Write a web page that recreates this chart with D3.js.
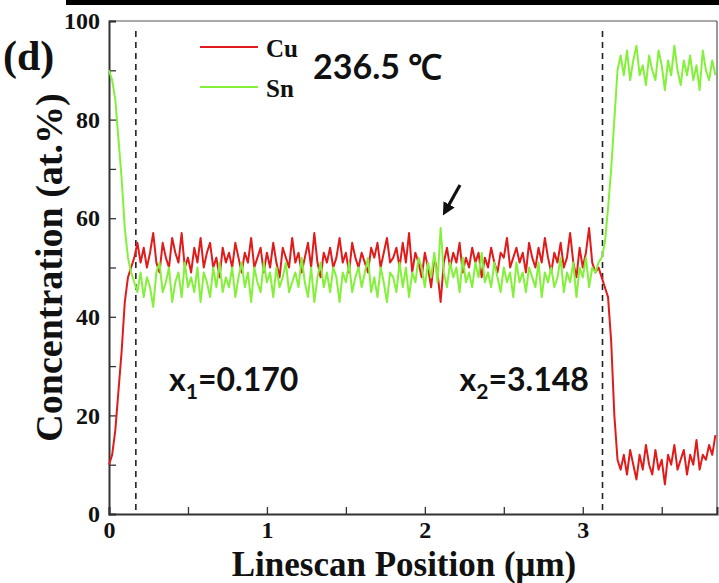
<!DOCTYPE html>
<html>
<head>
<meta charset="utf-8">
<script src="https://cdn.jsdelivr.net/npm/d3@7"></script>
<style>
  body { margin: 0; background: #fff; }
  svg { display: block; }
</style>
</head>
<body>
<div class="canvas"></div>
<script>
const step = 0.02;

const cu = [
  10, 12, 17, 25, 33, 43, 48, 50, 52, 55,
  51, 54, 50, 53, 57, 51, 49, 55, 52, 50,
  56, 53, 51, 57, 50, 52, 49, 54, 51, 56,
  50, 53, 55, 50, 52, 48, 54, 51, 53, 50,
  55, 52, 49, 53, 51, 56, 50, 52, 54, 49,
  53, 50, 55, 51, 48, 54, 52, 50, 56, 51,
  53, 49, 52, 55, 50, 57, 51, 48, 53, 51,
  54, 50, 52, 56, 51, 53, 49, 55, 52, 50,
  53, 51, 49, 54, 52, 55, 50, 53, 56, 51,
  52, 54, 50, 55, 51, 57, 49, 53, 51, 48,
  53, 50, 46, 52, 49, 43, 51, 54, 50, 53,
  51, 55, 49, 52, 50, 54, 51, 53, 48, 52,
  50, 54, 51, 49, 53, 52, 56, 50, 52, 54,
  51, 53, 49, 55, 52, 50, 54, 51, 56, 52,
  49, 53, 51, 55, 50, 52, 57, 51, 48, 54,
  50, 53, 58, 51, 49, 50, 48, 46, 44, 35,
  20, 11, 9, 12, 8, 13, 10, 7, 12, 9,
  14, 10, 8, 13, 9, 11, 6, 12, 10, 14,
  9, 11, 13, 8, 12, 10, 15, 9, 12, 11,
  14, 12, 16
];

const sn = [
  90, 88, 84, 76, 68, 58, 52, 49, 47, 45,
  49, 44, 48, 46, 42, 49, 51, 45, 47, 50,
  43, 47, 49, 44, 51, 46, 48, 45, 50, 43,
  49, 47, 44, 50, 46, 51, 45, 48, 46, 50,
  44, 48, 51, 46, 49, 43, 50, 47, 45, 51,
  47, 49, 44, 50, 46, 48, 51, 45, 47, 49,
  46, 52, 47, 44, 50, 43, 48, 51, 46, 49,
  45, 50, 48, 43, 49, 47, 51, 45, 48, 50,
  46, 49, 52, 45, 48, 44, 50, 47, 43, 49,
  48, 45, 51, 46, 50, 44, 49, 47, 52, 50,
  46, 51, 48, 53, 47, 58, 49, 46, 51, 48,
  50, 45, 52, 47, 49, 46, 51, 48, 53, 47,
  49, 46, 51, 48, 45, 50, 47, 49, 44, 51,
  47, 49, 45, 50, 48, 46, 51, 44, 49, 47,
  50, 46, 48, 52, 45, 49, 47, 51, 44, 50,
  48, 52, 46, 50, 49, 51, 52, 55, 62, 70,
  80, 90, 93, 89, 94, 88, 92, 95, 89, 91,
  87, 93, 90, 88, 94, 91, 86, 92, 89, 95,
  90, 87, 92, 89, 93, 88, 91, 86, 94, 90,
  88, 92, 89
];

const series = [
  { name: 'Cu', values: cu, color: '#e01b1b' },
  { name: 'Sn', values: sn, color: '#84f03c' }
];

const boundaries = [0.17, 3.125];
const notes = [
  { x: 0.38, y: 25, sub: '1', val: '=0.170' },
  { x: 2.22, y: 25, sub: '2', val: '=3.148' }
];

const xTicks = [0, 1, 2, 3];
const yTicks = [0, 20, 40, 60, 80, 100];

const width = 719, height = 583;
const margin = { top: 21, right: 2, bottom: 69, left: 109 };
const iw = width - margin.left - margin.right;
const ih = height - margin.top - margin.bottom;

const svg = d3.select('.canvas')
  .append('svg')
    .attr('width', width)
    .attr('height', height);

// black strip at the top of the figure
svg.append('rect')
  .attr('x', 66).attr('y', 0)
  .attr('width', width - 66).attr('height', 5)
  .attr('fill', '#000');

const g = svg.append('g')
  .attr('transform', `translate(${margin.left},${margin.top})`);

const x = d3.scaleLinear().domain([0, 3.85]).range([0, iw]);
const y = d3.scaleLinear().domain([0, 100]).range([ih, 0]);

// frame top / right
g.append('line').attr('x1', 0).attr('x2', iw).attr('y1', 0).attr('y2', 0)
  .attr('stroke', '#555').attr('stroke-width', 1.2);
g.append('line').attr('x1', iw).attr('x2', iw).attr('y1', 0).attr('y2', ih)
  .attr('stroke', '#555').attr('stroke-width', 1.2);

// minor ticks
g.append('g')
  .attr('transform', `translate(0,${ih})`)
  .call(d3.axisBottom(x).tickValues(d3.range(0.5, 3.85, 1)).tickSize(-7).tickFormat(''))
  .call(s => s.select('.domain').remove())
  .selectAll('line').attr('stroke', '#333').attr('stroke-width', 1.3);
g.append('g')
  .call(d3.axisLeft(y).tickValues(d3.range(10, 100, 20)).tickSize(-7).tickFormat(''))
  .call(s => s.select('.domain').remove())
  .selectAll('line').attr('stroke', '#333').attr('stroke-width', 1.3);

// main axes
const xAxis = g.append('g')
  .attr('transform', `translate(0,${ih})`)
  .call(d3.axisBottom(x).tickValues(xTicks).tickSize(-7).tickPadding(7).tickFormat(d3.format('d')));
const yAxis = g.append('g')
  .call(d3.axisLeft(y).tickValues(yTicks).tickSize(-7).tickPadding(9).tickFormat(d3.format('d')));

[xAxis, yAxis].forEach(a => {
  a.select('.domain').attr('stroke', '#333').attr('stroke-width', 2);
  a.selectAll('line').attr('stroke', '#333').attr('stroke-width', 1.3);
  a.selectAll('text')
    .attr('fill', '#111')
    .style('font-family', '"Liberation Serif", serif')
    .style('font-weight', 'bold')
    .style('font-size', '24px');
});

// dashed boundaries
g.selectAll('.bound')
  .data(boundaries)
  .enter()
  .append('line')
    .attr('class', 'bound')
    .attr('x1', d => x(d)).attr('x2', d => x(d))
    .attr('y1', 10).attr('y2', ih)
    .attr('stroke', '#222')
    .attr('stroke-width', 1.6)
    .attr('stroke-dasharray', '6,5');

// profiles
const line = d3.line()
  .x((d, i) => x(i * step))
  .y(d => y(d));

g.selectAll('.profile')
  .data(series)
  .enter()
  .append('path')
    .attr('class', 'profile')
    .attr('d', d => line(d.values))
    .attr('fill', 'none')
    .attr('stroke', d => d.color)
    .attr('stroke-width', 2)
    .attr('stroke-linejoin', 'round');

// legend
const leg = svg.append('g').attr('transform', 'translate(200,47)');
series.forEach((s, i) => {
  leg.append('line')
    .attr('x1', 0).attr('x2', 58)
    .attr('y1', i * 40).attr('y2', i * 40)
    .attr('stroke', s.color).attr('stroke-width', 2);
  leg.append('text')
    .attr('x', 66).attr('y', i * 40 + 1)
    .attr('dy', '0.35em')
    .style('font-family', '"Liberation Serif", serif')
    .style('font-weight', 'bold')
    .style('font-size', '25px')
    .attr('fill', '#111')
    .text(s.name);
});

svg.append('text')
  .attr('x', 313).attr('y', 79)
  .style('font-family', 'Lato, sans-serif')
  .style('font-weight', 'bold')
  .style('font-size', '34px')
  .attr('fill', '#111')
  .text('236.5 ℃');

// arrow pointing at the Sn spike
svg.append('defs').append('marker')
  .attr('id', 'head')
  .attr('viewBox', '0 0 10 10')
  .attr('refX', 5).attr('refY', 5)
  .attr('markerWidth', 4).attr('markerHeight', 4)
  .attr('orient', 'auto')
  .append('path').attr('d', 'M0,0L10,5L0,10z').attr('fill', '#111');
svg.append('line')
  .attr('x1', 460).attr('y1', 185)
  .attr('x2', 446).attr('y2', 210)
  .attr('stroke', '#111').attr('stroke-width', 3.2)
  .attr('marker-end', 'url(#head)');

// boundary labels
notes.forEach(n => {
  const t = g.append('text')
    .attr('x', x(n.x)).attr('y', y(n.y))
    .style('font-family', 'Lato, sans-serif')
    .style('font-weight', 'bold')
    .style('font-size', '32px')
    .attr('fill', '#111');
  t.append('tspan').text('x');
  t.append('tspan').attr('dy', 8).style('font-size', '21px').text(n.sub);
  t.append('tspan').attr('dy', -8).text(n.val);
});

// panel tag
svg.append('text')
  .attr('x', 3).attr('y', 70)
  .style('font-family', '"Liberation Serif", serif')
  .style('font-weight', 'bold')
  .style('font-size', '42px')
  .attr('fill', '#111')
  .text('(d)');

// axis titles
svg.append('text')
  .attr('x', 404).attr('y', 576)
  .attr('text-anchor', 'middle')
  .style('font-family', '"Liberation Serif", serif')
  .style('font-weight', 'bold')
  .style('font-size', '35px')
  .attr('fill', '#111')
  .text('Linescan Position (μm)');

svg.append('text')
  .attr('transform', `translate(62,${margin.top + y(50)}) rotate(-90)`)
  .attr('text-anchor', 'middle')
  .style('font-family', '"Liberation Serif", serif')
  .style('font-weight', 'bold')
  .style('font-size', '38px')
  .attr('fill', '#111')
  .text('Concentration (at.%)');
</script>
</body>
</html>
